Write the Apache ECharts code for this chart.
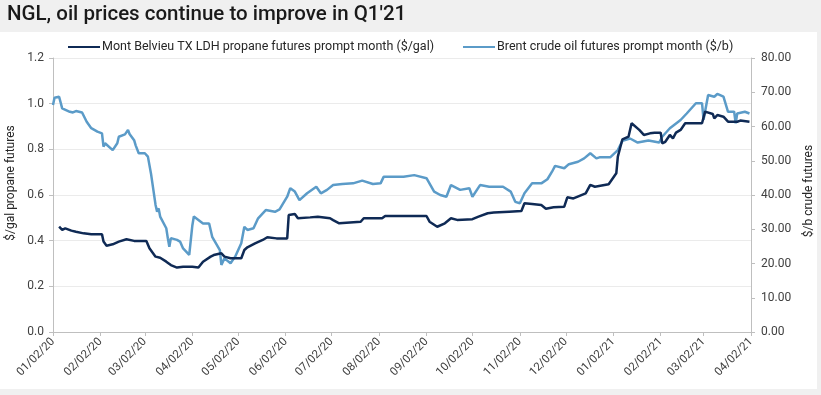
<!DOCTYPE html>
<html>
<head>
<meta charset="utf-8">
<script src="https://cdn.jsdelivr.net/npm/echarts@6/dist/echarts.min.js"></script>
<style>
html,body{margin:0;padding:0;background:#f0f0f0;}
#c{width:821px;height:395px;}
</style>
</head>
<body>
<div id="c"></div>
<script>
const titleText = "NGL, oil prices continue to improve in Q1'21";
const seriesNames = ["Mont Belvieu TX LDH propane futures prompt month ($/gal)", "Brent crude oil futures prompt month ($/b)"];
const leftAxisName = "$/gal propane futures";
const rightAxisName = "$/b crude futures";
const xTickLabels = ["01/02/20","02/02/20","03/02/20","04/02/20","05/02/20","06/02/20","07/02/20","08/02/20","09/02/20","10/02/20","11/02/20","12/02/20","01/02/21","02/02/21","03/02/21","04/02/21"];

const propaneDates = ["2020-01-06","2020-01-08","2020-01-10","2020-01-14","2020-01-17","2020-01-22","2020-01-27","2020-02-03","2020-02-04","2020-02-06","2020-02-10","2020-02-14","2020-02-19","2020-02-24","2020-03-03","2020-03-05","2020-03-09","2020-03-12","2020-03-16","2020-03-19","2020-03-23","2020-03-27","2020-04-02","2020-04-06","2020-04-09","2020-04-14","2020-04-16","2020-04-21","2020-04-23","2020-04-27","2020-05-04","2020-05-06","2020-05-08","2020-05-13","2020-05-18","2020-05-21","2020-05-27","2020-06-03","2020-06-04","2020-06-08","2020-06-10","2020-06-18","2020-06-23","2020-07-01","2020-07-03","2020-07-07","2020-07-08","2020-07-21","2020-07-23","2020-08-04","2020-08-06","2020-09-02","2020-09-04","2020-09-09","2020-09-14","2020-09-18","2020-09-22","2020-10-02","2020-10-06","2020-10-12","2020-10-16","2020-10-26","2020-11-03","2020-11-05","2020-11-10","2020-11-16","2020-11-19","2020-11-24","2020-12-01","2020-12-03","2020-12-07","2020-12-11","2020-12-15","2020-12-18","2020-12-21","2020-12-30","2021-01-04","2021-01-05","2021-01-07","2021-01-08","2021-01-12","2021-01-14","2021-01-19","2021-01-22","2021-01-26","2021-01-29","2021-02-02","2021-02-03","2021-02-05","2021-02-08","2021-02-10","2021-02-12","2021-02-15","2021-02-18","2021-02-19","2021-03-01","2021-03-03","2021-03-08","2021-03-09","2021-03-11","2021-03-15","2021-03-18","2021-03-24","2021-03-26","2021-04-01"];
const propaneValues = [0.461,0.447,0.454,0.444,0.439,0.432,0.428,0.428,0.396,0.378,0.384,0.396,0.406,0.399,0.399,0.367,0.330,0.325,0.308,0.293,0.282,0.286,0.286,0.282,0.308,0.330,0.337,0.345,0.330,0.323,0.323,0.359,0.371,0.388,0.403,0.415,0.410,0.410,0.512,0.517,0.498,0.502,0.505,0.498,0.490,0.476,0.483,0.483,0.498,0.498,0.508,0.508,0.483,0.461,0.476,0.498,0.491,0.494,0.505,0.520,0.523,0.527,0.530,0.564,0.561,0.556,0.540,0.546,0.549,0.590,0.585,0.596,0.607,0.644,0.636,0.647,0.695,0.768,0.819,0.844,0.856,0.914,0.885,0.863,0.870,0.873,0.873,0.826,0.833,0.863,0.848,0.873,0.885,0.914,0.907,0.914,0.965,0.955,0.936,0.950,0.943,0.921,0.921,0.926,0.921];

const brentDates = ["2020-01-02","2020-01-03","2020-01-06","2020-01-08","2020-01-13","2020-01-15","2020-01-17","2020-01-21","2020-01-24","2020-01-27","2020-01-29","2020-01-31","2020-02-03","2020-02-04","2020-02-05","2020-02-10","2020-02-13","2020-02-14","2020-02-18","2020-02-20","2020-02-21","2020-02-24","2020-02-25","2020-02-27","2020-03-02","2020-03-04","2020-03-06","2020-03-09","2020-03-10","2020-03-11","2020-03-12","2020-03-16","2020-03-17","2020-03-18","2020-03-19","2020-03-23","2020-03-25","2020-03-27","2020-03-31","2020-04-01","2020-04-02","2020-04-03","2020-04-06","2020-04-09","2020-04-13","2020-04-15","2020-04-20","2020-04-21","2020-04-23","2020-04-27","2020-04-30","2020-05-04","2020-05-06","2020-05-08","2020-05-12","2020-05-15","2020-05-20","2020-05-26","2020-05-29","2020-06-03","2020-06-05","2020-06-08","2020-06-11","2020-06-16","2020-06-22","2020-06-25","2020-06-29","2020-07-03","2020-07-09","2020-07-16","2020-07-22","2020-07-29","2020-08-03","2020-08-05","2020-08-18","2020-08-25","2020-09-02","2020-09-07","2020-09-11","2020-09-15","2020-09-18","2020-09-24","2020-09-30","2020-10-02","2020-10-07","2020-10-13","2020-10-22","2020-10-27","2020-10-30","2020-11-02","2020-11-05","2020-11-10","2020-11-16","2020-11-20","2020-11-23","2020-11-25","2020-12-01","2020-12-04","2020-12-10","2020-12-14","2020-12-18","2020-12-22","2020-12-24","2020-12-31","2021-01-05","2021-01-08","2021-01-13","2021-01-18","2021-01-25","2021-02-01","2021-02-03","2021-02-08","2021-02-15","2021-02-19","2021-02-25","2021-03-01","2021-03-02","2021-03-05","2021-03-09","2021-03-11","2021-03-15","2021-03-18","2021-03-22","2021-03-23","2021-03-24","2021-03-29","2021-04-01"];
const brentValues = [66.3,68.4,68.7,65.3,64.3,64.1,64.5,64.1,61.4,59.5,59.0,58.5,58.0,54.1,55.1,53.1,55.1,57.0,57.7,59.0,57.8,56.0,54.5,52.2,52.2,51.2,46.3,37.1,35.1,36.1,33.7,30.3,27.4,24.9,27.4,26.9,26.4,24.4,22.5,22.5,31.0,33.7,32.7,31.7,31.7,27.8,23.9,19.6,21.5,20.1,22.0,25.9,30.7,29.8,30.3,33.2,35.6,35.1,35.8,39.5,42.0,41.0,38.5,40.5,42.4,40.5,41.5,42.9,43.2,43.4,44.2,43.2,43.4,45.3,45.3,45.8,44.9,41.0,40.0,39.5,42.9,41.5,42.0,39.5,42.9,42.4,42.4,41.0,38.0,37.6,40.5,43.4,43.4,44.6,46.8,48.5,47.8,49.0,49.7,50.7,52.2,50.7,51.0,51.0,53.1,55.8,56.5,55.3,55.9,55.3,57.0,59.5,61.9,63.8,66.8,66.8,62.0,69.2,68.7,69.5,68.7,64.3,64.3,60.9,63.8,64.3,63.8];

function isoToTime(s){
  const p = s.split('-');
  return Date.UTC(parseInt(p[0],10), parseInt(p[1],10)-1, parseInt(p[2],10));
}
function labelToTime(s){
  const p = s.split('/');
  return Date.UTC(2000 + parseInt(p[2],10), parseInt(p[0],10)-1, parseInt(p[1],10));
}
function pad(n){return (n<10?'0':'')+n;}
function fmtDate(v){
  const d = new Date(v);
  return pad(d.getUTCMonth()+1)+'/'+pad(d.getUTCDate())+'/'+pad(d.getUTCFullYear()%100);
}
const tickTimes = xTickLabels.map(labelToTime);

const FONT = 'Roboto';
const legendBase = {
  top:35, itemWidth:32, itemHeight:2, itemGap:18, icon:'rect',
  textStyle:{fontFamily:FONT, fontSize:12.5, color:'#262626', lineHeight:14, padding:[0,0,0,-3]}
};
const chart = echarts.init(document.getElementById('c'), null, {renderer:'canvas'});
chart.setOption({
  animation:false,
  backgroundColor:'#f0f0f0',
  textStyle:{fontFamily:FONT},
  graphic:[
    {type:'rect', shape:{x:0,y:32,width:817,height:357}, style:{fill:'#ffffff'}, z:-10, silent:true},
    {type:'text', left:7, top:4, style:{text:titleText, font:'500 20.5px Roboto', fill:'#1a1a1a'}},
    {type:'text', x:11, y:183, rotation:Math.PI/2, style:{text:leftAxisName, font:'12px Roboto', fill:'#262626', align:'center', verticalAlign:'middle'}},
    {type:'text', x:809, y:191, rotation:Math.PI/2, style:{text:rightAxisName, font:'12px Roboto', fill:'#262626', align:'center', verticalAlign:'middle'}}
  ],
  legend:[
    Object.assign({}, legendBase, {left:63, data:[seriesNames[0]]}),
    Object.assign({}, legendBase, {left:458, data:[seriesNames[1]]})
  ],
  grid:{left:53, right:70, top:58, bottom:63, containLabel:false},
  xAxis:{
    type:'value',
    min:tickTimes[0], max:tickTimes[tickTimes.length-1],
    axisLine:{lineStyle:{color:'#bfbfbf', width:1}},
    axisTick:{show:true, length:4, lineStyle:{color:'#bfbfbf'}, customValues:tickTimes},
    axisLabel:{customValues:tickTimes, rotate:45, fontSize:11.5, color:'#404040', margin:8, formatter:function(v){return fmtDate(v);}, showMinLabel:true, showMaxLabel:true},
    splitLine:{show:false}
  },
  yAxis:[
    {type:'value', min:0, max:1.2, interval:0.2, position:'left',
     axisLine:{show:true, lineStyle:{color:'#bfbfbf'}},
     axisTick:{show:true, length:4, lineStyle:{color:'#bfbfbf'}},
     axisLabel:{fontSize:12, color:'#404040', margin:9, formatter:function(v){return v.toFixed(1);}},
     splitLine:{show:true, lineStyle:{color:'#ebebeb', width:1}}
    },
    {type:'value', min:0, max:80, interval:10, position:'right',
     axisLine:{show:true, lineStyle:{color:'#bfbfbf'}},
     axisTick:{show:true, length:4, lineStyle:{color:'#bfbfbf'}},
     axisLabel:{fontSize:12, color:'#404040', margin:10, formatter:function(v){return v.toFixed(2);}},
     splitLine:{show:false}
    }
  ],
  series:[
    {name:seriesNames[1], type:'line', yAxisIndex:1, showSymbol:false, symbol:'none', z:2,
     lineStyle:{color:'#5b9bc8', width:2.5}, itemStyle:{color:'#5b9bc8'},
     data:brentDates.map(function(d,i){return [isoToTime(d), brentValues[i]];})},
    {name:seriesNames[0], type:'line', yAxisIndex:0, showSymbol:false, symbol:'none', z:3,
     lineStyle:{color:'#0f2a55', width:2.5}, itemStyle:{color:'#0f2a55'},
     data:propaneDates.map(function(d,i){return [isoToTime(d), propaneValues[i]];})}
  ]
});
</script>
</body>
</html>
